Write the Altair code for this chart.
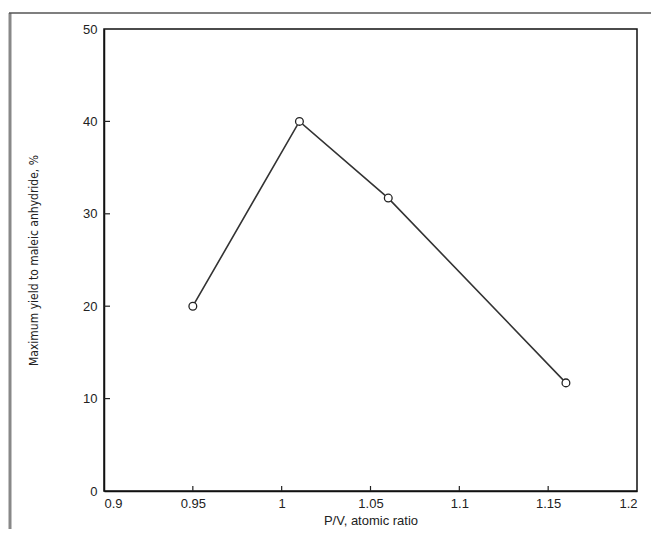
import altair as alt
import pandas as pd

# data
pv_ratio = [0.95, 1.01, 1.06, 1.16]
max_yield = [20.0, 40.0, 31.7, 11.7]

x_ticks = [0.9, 0.95, 1.0, 1.05, 1.1, 1.15, 1.2]
y_ticks = [0, 10, 20, 30, 40, 50]
x_inner_ticks = [0.95, 1.0, 1.05, 1.1, 1.15]
y_inner_ticks = [10, 20, 30, 40]

df = pd.DataFrame({"pv": pv_ratio, "yield": max_yield})
xt = pd.DataFrame({"v": x_inner_ticks})
yt = pd.DataFrame({"v": y_inner_ticks})
dummy = pd.DataFrame({"a": [0]})

W, H = 533, 462
FONT = "Liberation Sans"

xscale = alt.Scale(domain=[0.9, 1.2], nice=False, zero=False)
yscale = alt.Scale(domain=[0, 50], nice=False)

xaxis = alt.Axis(
    title="P/V, atomic ratio", values=x_ticks, ticks=False, grid=False,
    labelFlush=True, labelPadding=6, labelFontSize=13, labelFont=FONT,
    labelColor="#222", titleFont=FONT, titleFontSize=13, titleFontWeight="normal",
    titleColor="#222", titlePadding=4, domainColor="#111", domainWidth=1.5,
    labelExpr="datum.value == 1 ? '1' : format(datum.value, '.2~f')",
)
yaxis = alt.Axis(
    title="Maximum yield to maleic anhydride, %", values=y_ticks, ticks=False,
    grid=False, labelPadding=7, labelFontSize=13, labelFont=FONT, labelColor="#222",
    titleFont="DejaVu Sans Condensed", titleFontSize=12, titleFontWeight="normal",
    titleColor="#222", titlePadding=42, domainColor="#111", domainWidth=1.5,
    labelBaseline="middle", labelExpr="datum.value",
)

line = alt.Chart(df).mark_line(color="#333", strokeWidth=1.6).encode(
    x=alt.X("pv:Q", scale=xscale, axis=xaxis),
    y=alt.Y("yield:Q", scale=yscale, axis=yaxis),
)
pts = alt.Chart(df).mark_point(
    shape="circle", size=60, filled=True, fill="white", stroke="#222",
    strokeWidth=1.3, opacity=1,
).encode(x=alt.X("pv:Q", scale=xscale), y=alt.Y("yield:Q", scale=yscale))

xtick = alt.Chart(xt).mark_rule(color="#222", strokeWidth=1.2).encode(
    x=alt.X("v:Q", scale=xscale), y=alt.value(H), y2=alt.value(H - 5)
)
ytick = alt.Chart(yt).mark_rule(color="#222", strokeWidth=1.2).encode(
    y=alt.Y("v:Q", scale=yscale), x=alt.value(0), x2=alt.value(6)
)

vframe = alt.Chart(dummy).mark_rule(color="#888", strokeWidth=3).encode(
    x=alt.value(-94), y=alt.value(-16), y2=alt.value(H + 50)
)
hframe = alt.Chart(dummy).mark_rule(color="#555", strokeWidth=1.5).encode(
    y=alt.value(-16), x=alt.value(-95), x2=alt.value(W + 30)
)

chart = alt.layer(vframe, hframe, xtick, ytick, line, pts).properties(
    width=W, height=H, autosize="none", background="white",
    padding={"left": 96, "top": 21, "right": 14, "bottom": 38},
).configure_view(stroke="#111", strokeWidth=1.5)

chart.save("out.html", embed_options={"renderer": "svg", "actions": False})
